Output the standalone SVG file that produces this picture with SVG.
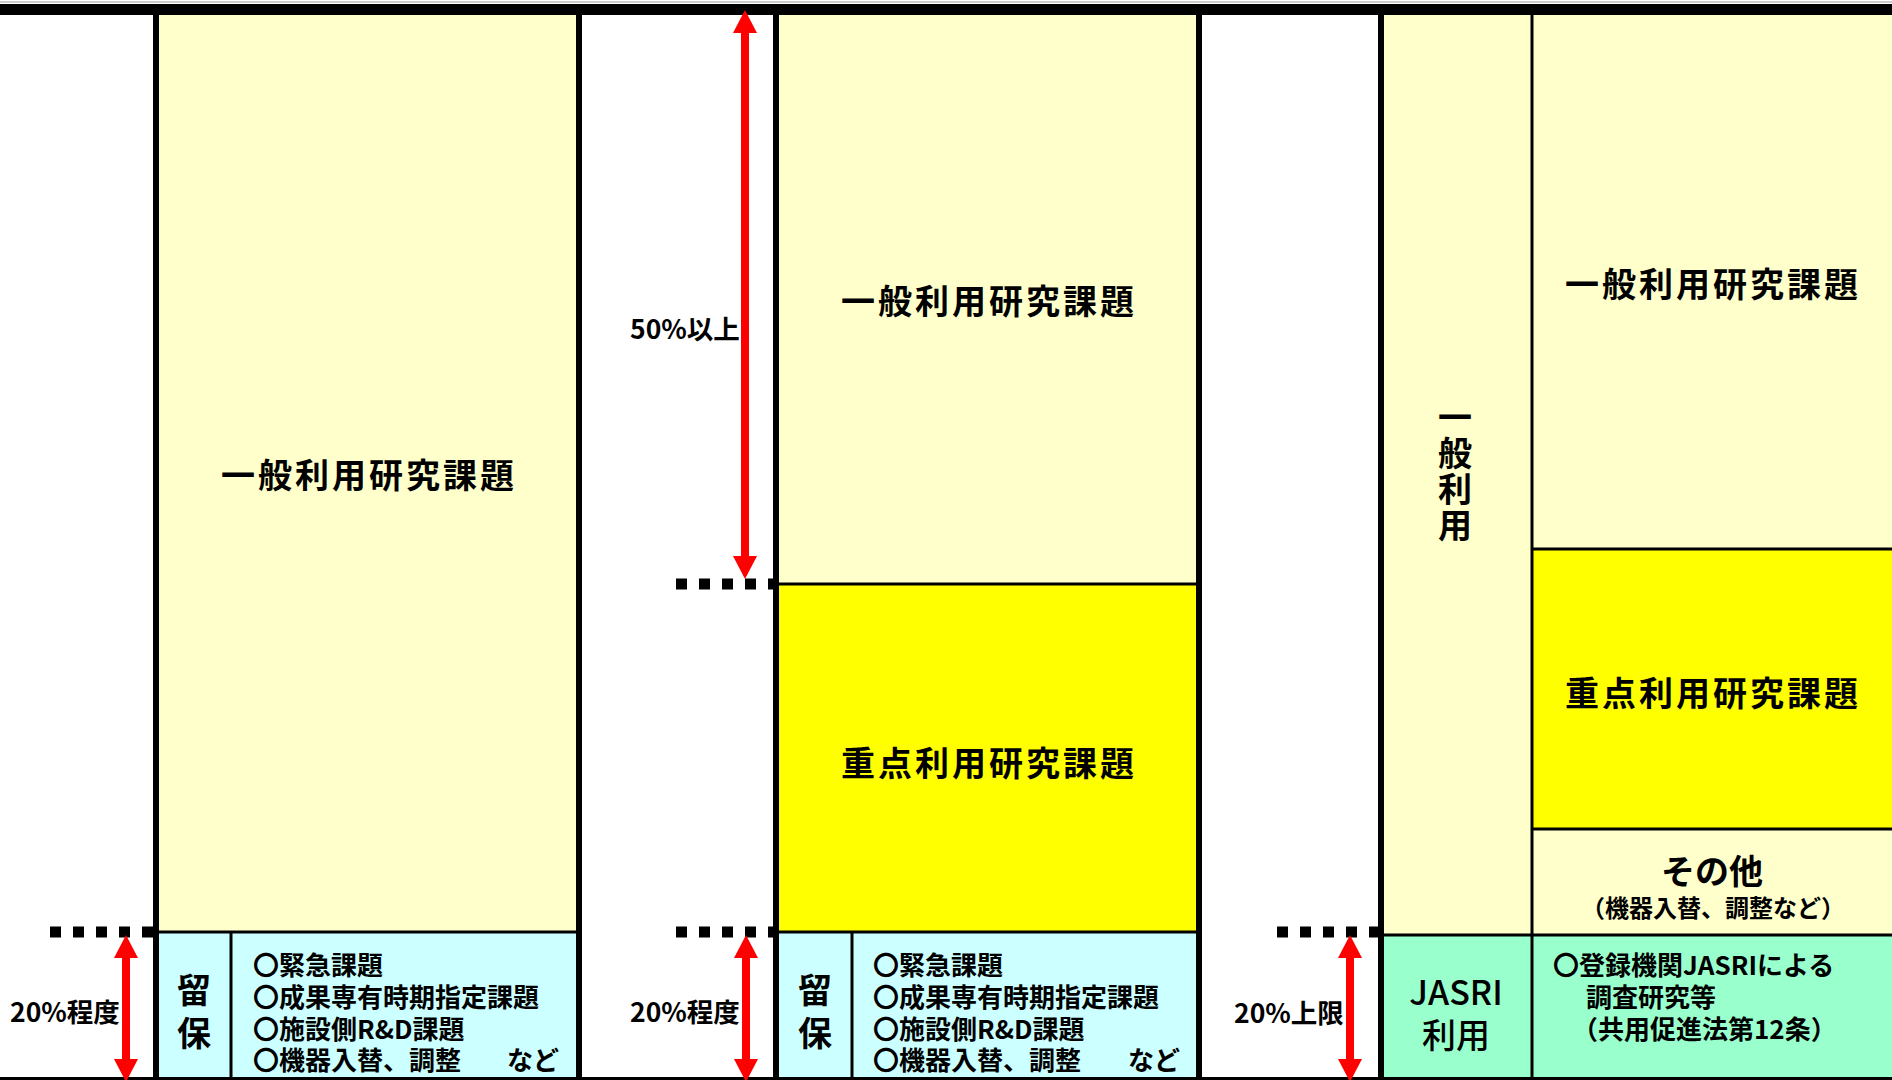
<svg xmlns="http://www.w3.org/2000/svg" width="1892" height="1080" viewBox="0 0 1892 1080">
  <defs>
    <style>
      text { font-family: "Noto Sans CJK JP", "Noto Sans CJK SC", sans-serif; fill: #000; dominant-baseline: central; }
      .title { font-size: 34px; font-weight: 700; letter-spacing: 3px; text-anchor: middle; }
      .list { font-size: 26px; font-weight: 700; }
      .pct { font-size: 26.5px; font-weight: 700; }
      .vert { font-size: 34px; font-weight: 700; text-anchor: middle; }
      .vcol { font-size: 34px; font-weight: 700; writing-mode: vertical-rl; }
      .vertn { font-size: 34px; font-weight: 500; text-anchor: middle; }
      .small { font-size: 24px; font-weight: 700; text-anchor: middle; }
      .ly { fill: #FFFFCC; }
      .yy { fill: #FFFF00; }
      .cy { fill: #CCFFFF; }
      .gr { fill: #99FFCC; }
      .thick { stroke: #000; stroke-width: 6; }
      .thin { stroke: #000; stroke-width: 3; }
      .dots { stroke: #000; stroke-width: 11; stroke-dasharray: 11 12; fill: none; }
      .arrow { stroke: #FF0000; stroke-width: 8; fill: none; marker-start: url(#ah); marker-end: url(#ah); }
    </style>
    <marker id="ah" viewBox="0 0 23 24" refX="3" refY="12" markerWidth="23" markerHeight="24" markerUnits="userSpaceOnUse" orient="auto-start-reverse">
      <path d="M0,0 L23,12 L0,24 Z" fill="#FF0000"/>
    </marker>
  </defs>

  <rect x="0" y="0" width="1892" height="1080" fill="#FFFFFF"/>

  <!-- Column 1 -->
  <g id="col1">
    <rect class="ly" x="156" y="15" width="423" height="917"/>
    <rect class="cy" x="156" y="932" width="423" height="148"/>
    <line class="thin" x1="156" y1="932" x2="579" y2="932"/>
    <line class="thin" x1="231" y1="932" x2="231" y2="1080"/>
    <line class="thick" x1="156" y1="15" x2="156" y2="1080"/>
    <line class="thick" x1="579" y1="15" x2="579" y2="1080"/>
  </g>
  <g id="col1-general">
    <text class="title" x="369" y="473">一般利用研究課題</text>
  </g>
  <g id="col1-reserve">
    <text class="vcol" x="194" y="973" letter-spacing="9">留保</text>
  </g>
  <g id="col1-list">
    <text class="list"><tspan x="253" y="963">〇緊急課題</tspan><tspan x="253" y="995">〇成果専有時期指定課題</tspan><tspan x="253" y="1027">〇施設側R&amp;D課題</tspan><tspan x="253" y="1058">〇機器入替、調整</tspan><tspan x="507" y="1058">など</tspan></text>
  </g>
  <g id="col1-label">
    <text class="pct" x="10" y="1010">20%程度</text>
  </g>

  <!-- Column 2 -->
  <g id="col2">
    <rect class="ly" x="776" y="15" width="423" height="569"/>
    <rect class="yy" x="776" y="584" width="423" height="348"/>
    <rect class="cy" x="776" y="932" width="423" height="148"/>
    <line class="thin" x1="776" y1="584" x2="1199" y2="584"/>
    <line class="thin" x1="776" y1="932" x2="1199" y2="932"/>
    <line class="thin" x1="852" y1="932" x2="852" y2="1080"/>
    <line class="thick" x1="776" y1="15" x2="776" y2="1080"/>
    <line class="thick" x1="1199" y1="15" x2="1199" y2="1080"/>
  </g>
  <g id="col2-general">
    <text class="title" x="989" y="299">一般利用研究課題</text>
  </g>
  <g id="col2-priority">
    <text class="title" x="989" y="761">重点利用研究課題</text>
  </g>
  <g id="col2-reserve">
    <text class="vcol" x="815" y="973" letter-spacing="9">留保</text>
  </g>
  <g id="col2-list">
    <text class="list"><tspan x="873" y="963">〇緊急課題</tspan><tspan x="873" y="995">〇成果専有時期指定課題</tspan><tspan x="873" y="1027">〇施設側R&amp;D課題</tspan><tspan x="873" y="1058">〇機器入替、調整</tspan><tspan x="1128" y="1058">など</tspan></text>
  </g>
  <g id="col2-labels">
    <text class="pct" x="630" y="327">50%以上</text>
    <text class="pct" x="630" y="1010">20%程度</text>
  </g>

  <!-- Column 3 -->
  <g id="col3">
    <rect class="ly" x="1381" y="15" width="511" height="920"/>
    <rect class="yy" x="1532" y="549" width="360" height="280"/>
    <rect class="gr" x="1381" y="935" width="511" height="145"/>
    <line class="thin" x1="1532" y1="549" x2="1892" y2="549"/>
    <line class="thin" x1="1532" y1="829" x2="1892" y2="829"/>
    <line class="thin" x1="1381" y1="935" x2="1892" y2="935"/>
    <line class="thin" x1="1532" y1="15" x2="1532" y2="1080"/>
    <line class="thick" x1="1381" y1="15" x2="1381" y2="1080"/>
  </g>
  <g id="col3-general-vertical">
    <text class="vcol" x="1455" y="400" letter-spacing="2">一般利用</text>
  </g>
  <g id="col3-general">
    <text class="title" x="1713" y="282">一般利用研究課題</text>
  </g>
  <g id="col3-priority">
    <text class="title" x="1713" y="691">重点利用研究課題</text>
  </g>
  <g id="col3-other">
    <text class="vert"><tspan x="1712" y="869">その他</tspan><tspan class="small" x="1713" y="906" style="font-size:24px">（機器入替、調整など）</tspan></text>
  </g>
  <g id="col3-jasri">
    <text class="vertn"><tspan x="1456" y="990">JASRI</tspan><tspan x="1456" y="1033">利用</tspan></text>
  </g>
  <g id="col3-jasri-list">
    <text class="list"><tspan x="1553" y="963">〇登録機関JASRIによる</tspan><tspan x="1586" y="995">調査研究等</tspan><tspan x="1572" y="1027">（共用促進法第12条）</tspan></text>
  </g>
  <g id="col3-label">
    <text class="pct" x="1234" y="1011">20%上限</text>
  </g>

  <!-- frame bands -->
  <g id="frame">
    <line x1="0" y1="2" x2="1892" y2="2" stroke="#CCCCCC" stroke-width="2"/>
    <rect x="0" y="4" width="1892" height="11" fill="#000"/>
    <rect x="0" y="1077" width="1892" height="3" fill="#000"/>
  </g>

  <!-- connectors: dotted level lines and red range arrows -->
  <g id="connectors">
    <line class="dots" x1="153" y1="932" x2="50" y2="932"/>
    <line class="dots" x1="779" y1="584" x2="671" y2="584"/>
    <line class="dots" x1="779" y1="932" x2="671" y2="932"/>
    <line class="dots" x1="1380" y1="932" x2="1275" y2="932"/>
    <line class="arrow" x1="126" y1="955" x2="126" y2="1062"/>
    <line class="arrow" x1="745" y1="30" x2="745" y2="559"/>
    <line class="arrow" x1="746" y1="955" x2="746" y2="1062"/>
    <line class="arrow" x1="1350" y1="955" x2="1350" y2="1062"/>
  </g>
</svg>
